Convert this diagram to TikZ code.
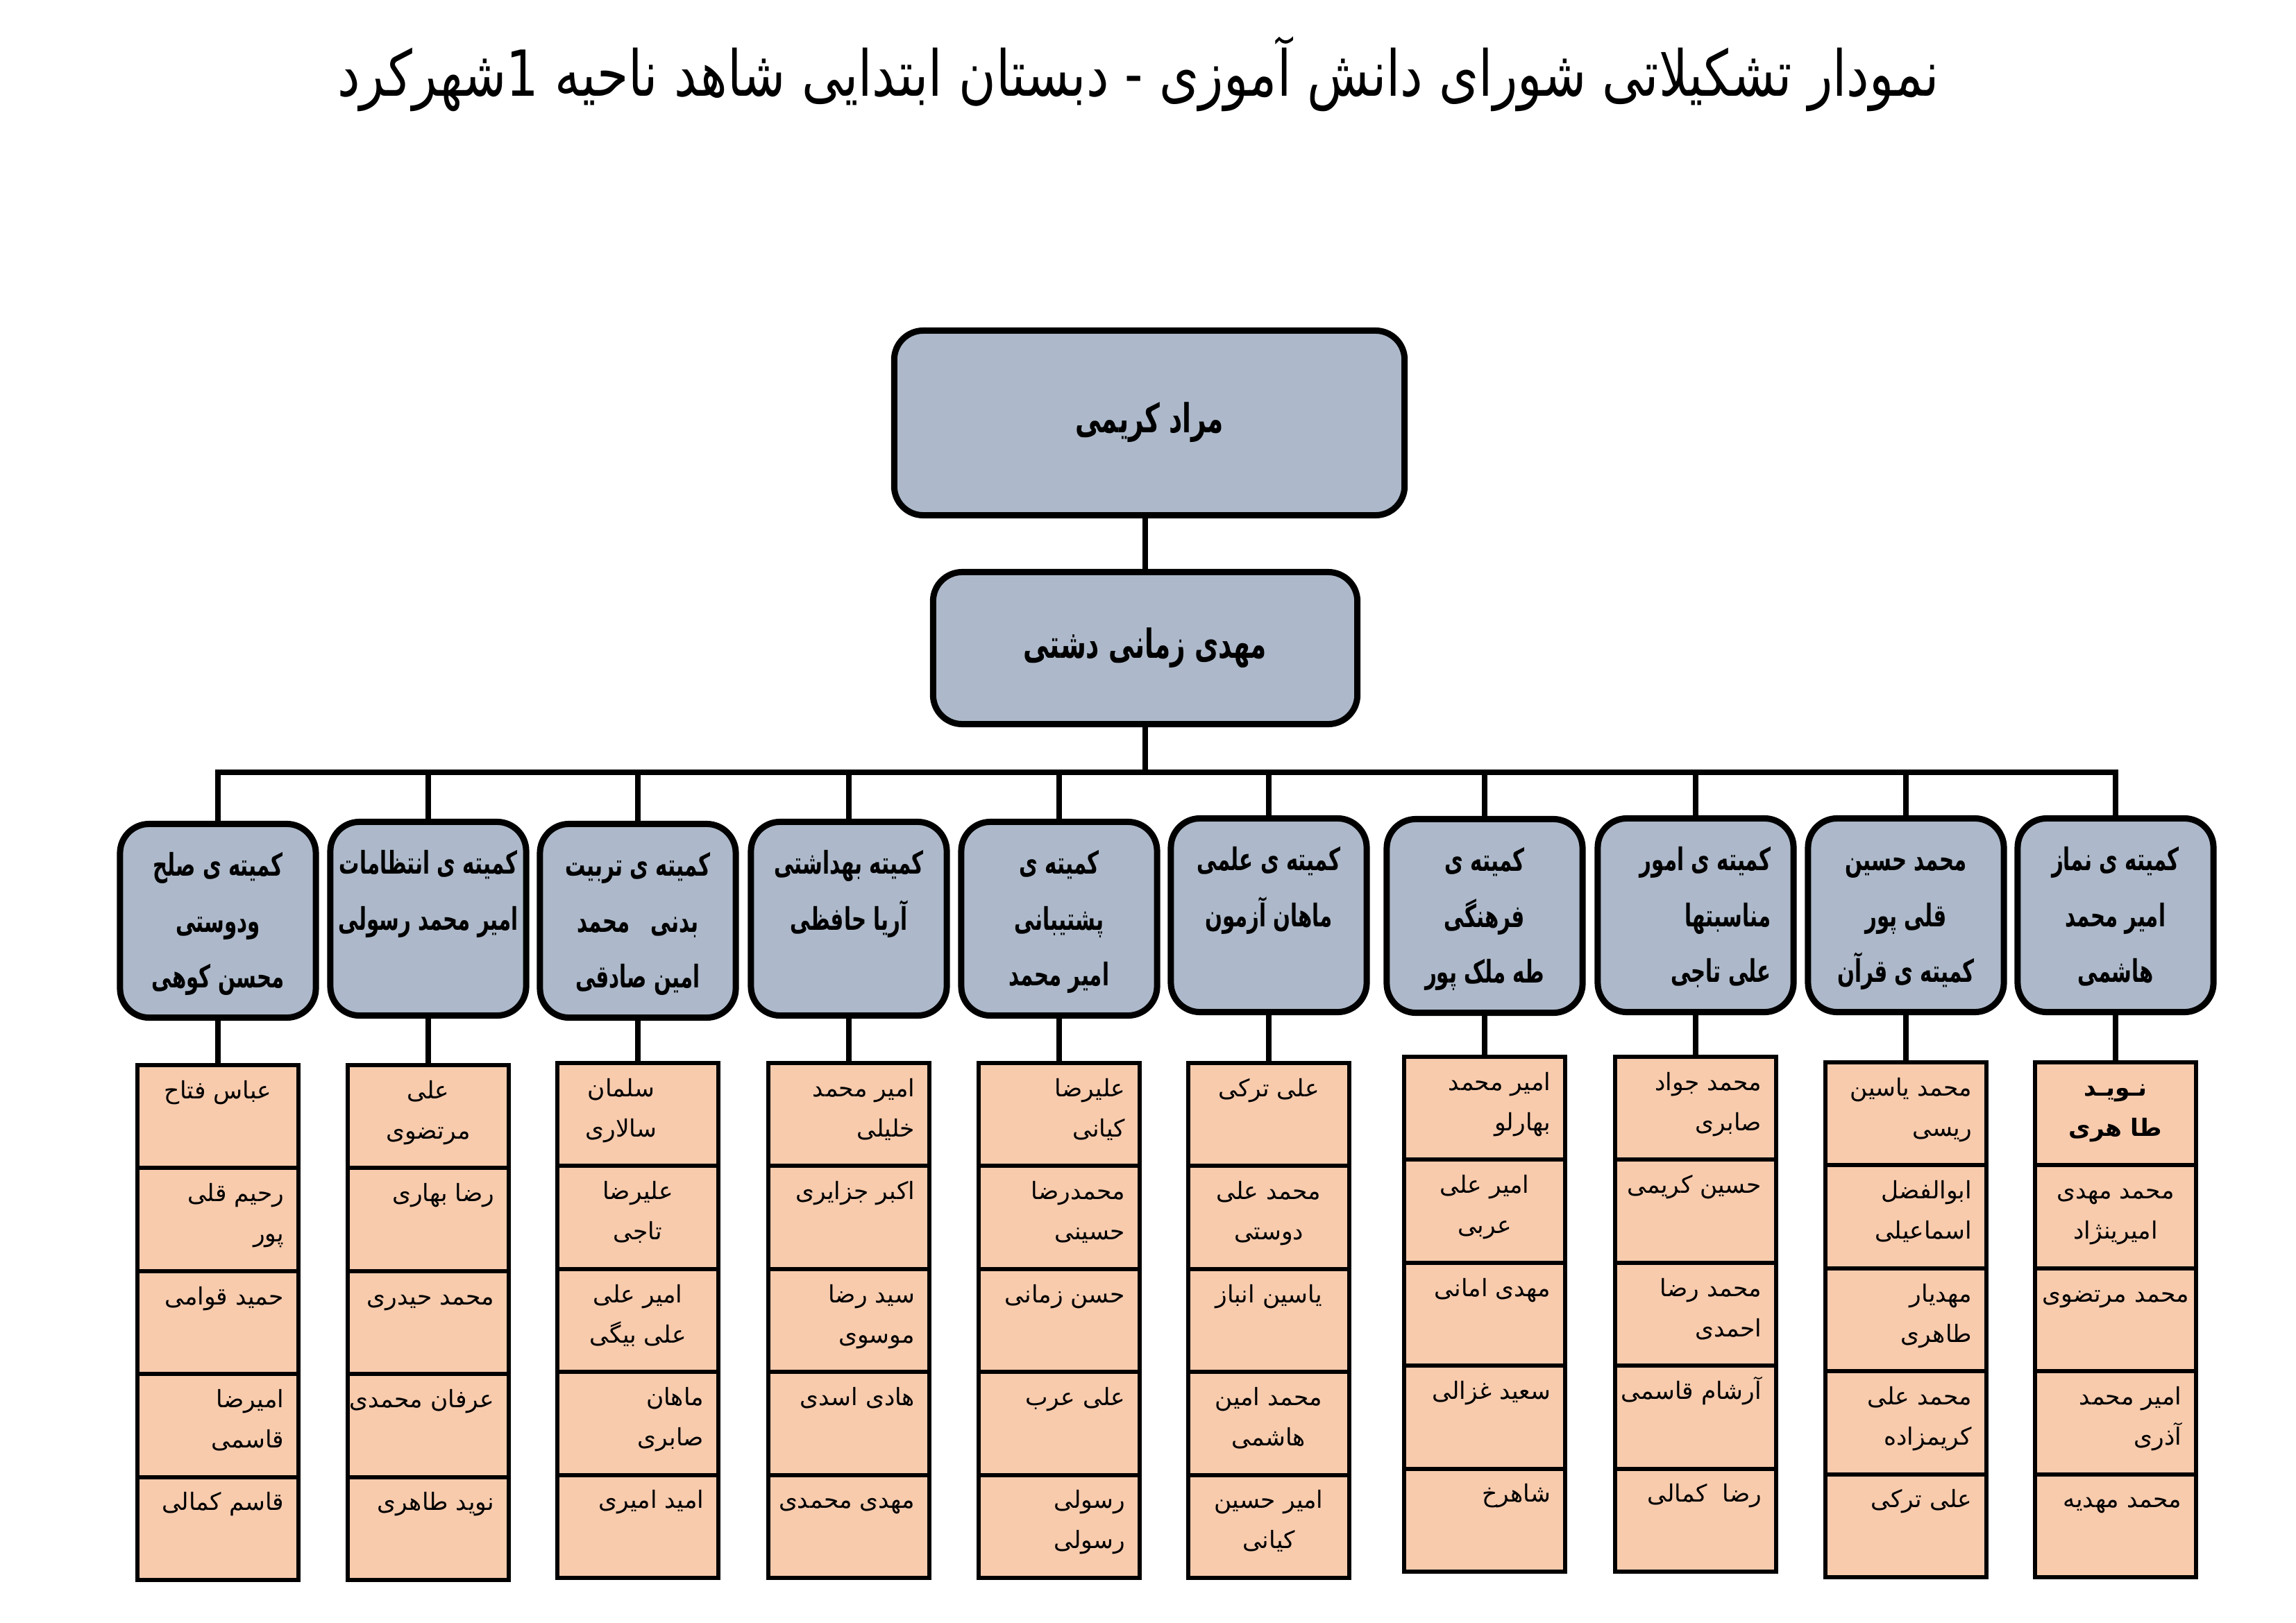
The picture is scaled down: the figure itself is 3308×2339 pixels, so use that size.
\documentclass[tikz,border=0pt]{standalone}
\usepackage{fontspec}
\newfontfamily\arabicfont[Script=Arabic]{DejaVu Sans}
\newfontfamily\arabicnarrow[Script=Arabic,FakeStretch=0.65]{DejaVu Sans}
\newfontfamily\arabictitle[Script=Arabic,FakeStretch=0.8]{DejaVu Sans}
\TeXXeTstate=1
\newcommand{\prs}[1]{\beginR #1\endR}
\newcommand{\lfR}[1]{\makebox[1.90cm][r]{\prs{#1}}\strut}
\newcommand{\lfC}[1]{\makebox[1.90cm][c]{\prs{#1}}\strut}
\newcommand{\lfD}{\rule[-0.346cm]{0pt}{0.346cm}\strut}
\newcommand{\cmC}[1]{\makebox[2.17cm][c]{\prs{#1}}\strut}
\newcommand{\cmR}[1]{\makebox[2.17cm][r]{\prs{#1}}\strut}
\definecolor{boxblue}{HTML}{ADB9CA}
\definecolor{peach}{HTML}{F8CBAD}
\tikzset{
  headbox/.style={draw=black, fill=boxblue, line width=0.09cm, rounded corners=0.42cm, inner sep=0pt, align=center, font=\arabicnarrow\bfseries\fontsize{16.4}{20}\selectfont},
  combox/.style={draw=black, fill=boxblue, line width=0.09cm, rounded corners=0.42cm, minimum width=2.82cm, minimum height=2.79cm, inner xsep=0.325cm, inner ysep=0pt, align=center, font=\arabicnarrow\bfseries\fontsize{12.8}{22.76}\selectfont},
  leaf/.style={draw=black, fill=peach, line width=0.06cm, minimum width=2.32cm, minimum height=1.484cm, inner xsep=0.21cm, inner ysep=0pt, align=center, font=\arabicfont\fontsize{9.8}{16.5}\selectfont},
  wire/.style={draw=black, line width=0.085cm},
  titletext/.style={anchor=base, inner sep=0pt, font=\arabictitle\fontsize{26}{32}\selectfont},
}
\begin{document}
\begin{tikzpicture}[x=0.01cm,y=-0.01cm]
\useasboundingbox (0,0) rectangle (3308,2339);
\node[titletext] (title) at (1640,138) {\prs{نمودار تشکیلاتی شورای دانش آموزی - دبستان ابتدایی شاهد ناحیه 1شهرکرد}};

\node[headbox, minimum width=7.35cm, minimum height=2.66cm] (top) at (1656,609.5) {\prs{مراد کریمی}\strut};
\node[headbox, minimum width=6.11cm, minimum height=2.19cm] (mid) at (1650,934) {\prs{مهدی زمانی دشتی}\strut};

% committees
\node[combox] (c1) at (314,1327) {\cmC{کمیته ی صلح}\\\cmC{ودوستی}\\\cmC{محسن کوهی}};
\node[combox] (c2) at (617,1324) {\cmC{کمیته ی انتظامات}\\\cmC{امیر محمد رسولی}\\\strut};
\node[combox] (c3) at (919,1327) {\cmC{کمیته ی تربیت}\\\cmC{بدنی~~~محمد}\\\cmC{امین صادقی}};
\node[combox] (c4) at (1223,1324) {\cmC{کمیته بهداشتی}\\\cmC{آریا حافظی}\\\strut};
\node[combox] (c5) at (1526,1324) {\cmC{کمیته ی}\\\cmC{پشتیبانی}\\\cmC{امیر محمد}};
\node[combox] (c6) at (1828,1319) {\cmC{کمیته ی علمی}\\\cmC{ماهان آزمون}\\\strut};
\node[combox] (c7) at (2139,1320) {\cmC{کمیته ی}\\\cmC{فرهنگی}\\\cmC{طه ملک پور}};
\node[combox] (c8) at (2443,1319) {\cmR{کمیته ی امور}\\\cmR{مناسبتها}\\\cmR{علی تاجی}};
\node[combox] (c9) at (2746,1319) {\cmC{محمد حسین}\\\cmC{قلی پور}\\\cmC{کمیته ی قرآن}};
\node[combox] (c10) at (3048,1319) {\cmC{کمیته ی نماز}\\\cmC{امیر محمد}\\\cmC{هاشمی}};

% column 1
\node[leaf] (l1a) at (314,1609.2) {\lfC{عباس فتاح}\\\lfD};
\node[leaf] (l1b) at (314,1757.6) {\lfR{رحیم قلی}\\\lfR{پور}\lfD};
\node[leaf] (l1c) at (314,1906.0) {\lfR{حمید قوامی}\\\lfD};
\node[leaf] (l1d) at (314,2054.4) {\lfR{امیرضا}\\\lfR{قاسمی}\lfD};
\node[leaf] (l1e) at (314,2202.8) {\lfR{قاسم کمالی}\\\lfD};
% column 2
\node[leaf] (l2a) at (617,1609.2) {\lfC{علی}\\\lfC{مرتضوی}\lfD};
\node[leaf] (l2b) at (617,1757.6) {\lfR{رضا بهاری}\\\lfD};
\node[leaf] (l2c) at (617,1906.0) {\lfR{محمد حیدری}\\\lfD};
\node[leaf] (l2d) at (617,2054.4) {\lfR{عرفان محمدی}\\\lfD};
\node[leaf] (l2e) at (617,2202.8) {\lfR{نوید طاهری}\\\lfD};
% column 3
\node[leaf] (l3a) at (919,1606.2) {\makebox[1.90cm][c]{\prs{سلمان}\hspace{0.48cm}}\strut\\\makebox[1.90cm][c]{\prs{سالاری}\hspace{0.48cm}}\lfD};
\node[leaf] (l3b) at (919,1754.6) {\lfC{علیرضا}\\\lfC{تاجی}\lfD};
\node[leaf] (l3c) at (919,1903.0) {\lfC{امیر علی}\\\lfC{علی بیگی}\lfD};
\node[leaf] (l3d) at (919,2051.4) {\lfR{ماهان}\\\lfR{صابری}\lfD};
\node[leaf] (l3e) at (919,2199.8) {\lfR{امید امیری}\\\lfD};
% column 4
\node[leaf] (l4a) at (1223,1606.2) {\lfR{امیر محمد}\\\lfR{خلیلی}\lfD};
\node[leaf] (l4b) at (1223,1754.6) {\lfR{اکبر جزایری}\\\lfD};
\node[leaf] (l4c) at (1223,1903.0) {\lfR{سید رضا}\\\lfR{موسوی}\lfD};
\node[leaf] (l4d) at (1223,2051.4) {\lfR{هادی اسدی}\\\lfD};
\node[leaf] (l4e) at (1223,2199.8) {\lfR{مهدی محمدی}\\\lfD};
% column 5
\node[leaf] (l5a) at (1526,1606.2) {\lfR{علیرضا}\\\lfR{کیانی}\lfD};
\node[leaf] (l5b) at (1526,1754.6) {\lfR{محمدرضا}\\\lfR{حسینی}\lfD};
\node[leaf] (l5c) at (1526,1903.0) {\lfR{حسن زمانی}\\\lfD};
\node[leaf] (l5d) at (1526,2051.4) {\lfR{علی عرب}\\\lfD};
\node[leaf] (l5e) at (1526,2199.8) {\lfR{رسولی}\\\lfR{رسولی}\lfD};
% column 6
\node[leaf] (l6a) at (1828,1606.2) {\lfC{علی ترکی}\\\lfD};
\node[leaf] (l6b) at (1828,1754.6) {\lfC{محمد علی}\\\lfC{دوستی}\lfD};
\node[leaf] (l6c) at (1828,1903.0) {\lfC{یاسین انباز}\\\lfD};
\node[leaf] (l6d) at (1828,2051.4) {\lfC{محمد امین}\\\lfC{هاشمی}\lfD};
\node[leaf] (l6e) at (1828,2199.8) {\lfC{امیر حسین}\\\lfC{کیانی}\lfD};
% column 7
\node[leaf] (l7a) at (2139,1597.2) {\lfR{امیر محمد}\\\lfR{بهارلو}\lfD};
\node[leaf] (l7b) at (2139,1745.6) {\lfC{امیر علی}\\\lfC{عربی}\lfD};
\node[leaf] (l7c) at (2139,1894.0) {\lfR{مهدی امانی}\\\lfD};
\node[leaf] (l7d) at (2139,2042.4) {\lfR{سعید غزالی}\\\lfD};
\node[leaf] (l7e) at (2139,2190.8) {\lfR{شاهرخ}\\\lfD};
% column 8
\node[leaf] (l8a) at (2443,1597.2) {\lfR{محمد جواد}\\\lfR{صابری}\lfD};
\node[leaf] (l8b) at (2443,1745.6) {\lfR{حسین کریمی}\\\lfD};
\node[leaf] (l8c) at (2443,1894.0) {\lfR{محمد رضا}\\\lfR{احمدی}\lfD};
\node[leaf] (l8d) at (2443,2042.4) {\lfR{آرشام قاسمی}\\\lfD};
\node[leaf] (l8e) at (2443,2190.8) {\lfR{رضا~~کمالی}\\\lfD};
% column 9
\node[leaf] (l9a) at (2746,1605.2) {\lfR{محمد یاسین}\\\lfR{ریسی}\lfD};
\node[leaf] (l9b) at (2746,1753.6) {\lfR{ابوالفضل}\\\lfR{اسماعیلی}\lfD};
\node[leaf] (l9c) at (2746,1902.0) {\lfR{مهدیار}\\\lfR{طاهری}\lfD};
\node[leaf] (l9d) at (2746,2050.4) {\lfR{محمد علی}\\\lfR{کریمزاده}\lfD};
\node[leaf] (l9e) at (2746,2198.8) {\lfR{علی ترکی}\\\lfD};
% column 10
\node[leaf] (l10a) at (3048,1605.2) {\lfC{\textbf{نـویـد}}\\\lfC{\textbf{طا هری}}\lfD};
\node[leaf] (l10b) at (3048,1753.6) {\lfC{محمد مهدی}\\\lfC{امیرینژاد}\lfD};
\node[leaf] (l10c) at (3048,1902.0) {\lfC{محمد مرتضوی}\\\lfD};
\node[leaf] (l10d) at (3048,2050.4) {\lfR{امیر محمد}\\\lfR{آذری}\lfD};
\node[leaf] (l10e) at (3048,2198.8) {\lfR{محمد مهدیه}\\\lfD};

% connectors
\coordinate (bus) at (1650,1113);
\draw[wire] (top.south -| mid.north) -- (mid.north);
\draw[wire] (mid.south) -- (bus);
\draw[wire] (c1.north) -- (c1.north |- bus) -- (c10.north |- bus) -- (c10.north);
\foreach \c in {c2,c3,c4,c5,c6,c7,c8,c9} {
  \draw[wire] (\c.north |- bus) -- (\c.north);
}
\foreach \i in {1,...,10} {
  \draw[wire] (c\i.south) -- (l\i a.north);
}
\end{tikzpicture}
\end{document}
